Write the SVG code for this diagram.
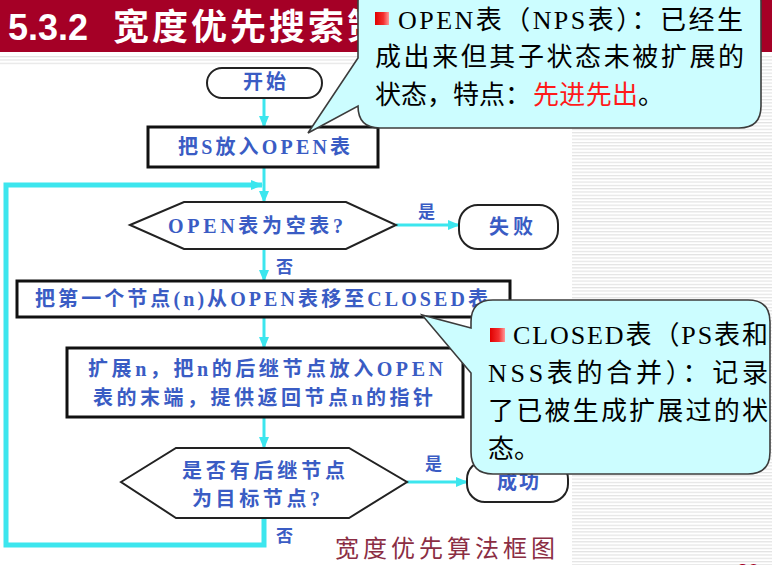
<svg xmlns="http://www.w3.org/2000/svg" width="772" height="565" viewBox="0 0 772 565">
  <defs>
    <pattern id="stripes" patternUnits="userSpaceOnUse" width="8" height="3.3">
      <rect x="0" y="0" width="8" height="1.2" fill="#e3e3e3"/>
    </pattern>
    <linearGradient id="bulletFill" x1="0" y1="0" x2="1" y2="0">
      <stop offset="0" stop-color="#e00000"/>
      <stop offset="0.6" stop-color="#f43030"/>
      <stop offset="1" stop-color="#ff9a9a"/>
    </linearGradient>
    <marker id="arrow" markerUnits="userSpaceOnUse" markerWidth="12" markerHeight="10" refX="11" refY="5" orient="auto">
      <path d="M0,0 L12,5 L0,10 Z" fill="#3ce6ee"/>
    </marker>
    <style>
      .flow { fill: none; stroke: #3ce6ee; stroke-width: 3; }
      .loop { fill: none; stroke: #3ce6ee; stroke-width: 5; stroke-linejoin: miter; }
      .box { fill: #ffffff; stroke: #111111; stroke-width: 3; }
      .term { fill: #ffffff; stroke: #222222; stroke-width: 2; }
      .dec { fill: #ffffff; stroke: #222222; stroke-width: 2; }
      .lbl { font-family: "Liberation Serif", "Noto Sans CJK SC", serif; font-weight: bold; fill: #3a5cc4; font-size: 20px; }
      .yn { font-family: "Noto Sans CJK SC", sans-serif; font-weight: bold; fill: #3a5cc4; font-size: 17px; }
      .note { fill: #ccfdff; stroke: #3c3c3c; stroke-width: 1.6; }
      .ntxt { font-family: "Liberation Serif", "Noto Sans CJK SC", serif; font-size: 26px; fill: #000000; }
      .hot { fill: #ff1a1a; }
    </style>
  </defs>

  <!-- page background -->
  <rect x="0" y="0" width="772" height="565" fill="#ffffff"/>
  <rect x="0" y="55" width="772" height="10" fill="url(#stripes)"/>
  <rect x="572" y="65" width="200" height="500" fill="url(#stripes)"/>

  <!-- title bar -->
  <g id="title">
    <rect x="0" y="0" width="772" height="52" fill="#a50026"/>
    <text x="8" y="40" font-family="Liberation Sans, Arial, sans-serif" font-weight="bold" font-size="36" fill="#ffffff">5.3.2</text>
    <text x="113" y="40" font-family="Noto Sans CJK SC, sans-serif" font-weight="bold" font-size="36" letter-spacing="3" fill="#ffffff">宽度优先搜索策略</text>
  </g>

  <!-- connectors -->
  <g id="connectors">
    <path class="flow" d="M264,98 V127" marker-end="url(#arrow)"/>
    <path class="flow" d="M264,167 V202" marker-end="url(#arrow)"/>
    <path class="loop" d="M264,518 V545 H6 V185 H262" marker-end="url(#arrow)"/>
    <path class="flow" d="M264,249 V281" marker-end="url(#arrow)"/>
    <path class="flow" d="M396,225 H459" stroke-width="4" marker-end="url(#arrow)"/>
    <path class="flow" d="M264,317 V348" marker-end="url(#arrow)"/>
    <path class="flow" d="M264,417 V448" marker-end="url(#arrow)"/>
    <path class="flow" d="M407,482 H467" stroke-width="4" marker-end="url(#arrow)"/>
    <text class="yn" x="276" y="273">否</text>
    <text class="yn" x="418" y="218">是</text>
    <text class="yn" x="425" y="470">是</text>
    <text class="yn" x="276" y="542">否</text>
  </g>

  <g id="start">
    <rect class="term" x="207" y="68" width="115" height="30" rx="15"/>
    <text class="lbl" x="243" y="89" textLength="43" lengthAdjust="spacing">开始</text>
  </g>

  <g id="putS">
    <rect class="box" x="148" y="127" width="230" height="40"/>
    <text class="lbl" x="178" y="154" textLength="172" lengthAdjust="spacing">把S放入OPEN表</text>
  </g>

  <g id="isEmpty">
    <polygon class="dec" points="130,225 184,202 346,202 396,225 346,249 184,249"/>
    <text class="lbl" x="168" y="233" textLength="175" lengthAdjust="spacing">OPEN表为空表?</text>
  </g>

  <g id="fail">
    <rect class="term" x="459" y="205" width="99" height="44" rx="19"/>
    <text class="lbl" x="489" y="234" textLength="44" lengthAdjust="spacing">失败</text>
  </g>

  <g id="moveFirst">
    <rect class="box" x="17" y="281" width="493" height="36"/>
    <text class="lbl" x="35" y="306" textLength="453" lengthAdjust="spacing">把第一个节点(n)从OPEN表移至CLOSED表</text>
  </g>

  <g id="expand">
    <rect class="box" x="67" y="348" width="396" height="69"/>
    <text class="lbl" x="88" y="376" textLength="355" lengthAdjust="spacing">扩展n，把n的后继节点放入OPEN</text>
    <text class="lbl" x="93" y="405" textLength="340" lengthAdjust="spacing">表的末端，提供返回节点n的指针</text>
  </g>

  <g id="isGoal">
    <polygon class="dec" points="121,482 176,448 349,448 407,482 349,518 176,518"/>
    <text class="lbl" x="182" y="478" textLength="163" lengthAdjust="spacing">是否有后继节点</text>
    <text class="lbl" x="192" y="506" textLength="128" lengthAdjust="spacing">为目标节点?</text>
  </g>

  <g id="success">
    <rect class="term" x="467" y="461" width="101" height="41" rx="18"/>
    <text class="lbl" x="497" y="489" textLength="42" lengthAdjust="spacing">成功</text>
  </g>

  <g id="caption">
    <text x="335" y="557" font-family="Noto Sans CJK SC, sans-serif" font-size="24" fill="#8b2e44" textLength="220" lengthAdjust="spacing">宽度优先算法框图</text>
  </g>

  <g id="pageNumber">
    <text x="737" y="578" font-family="Liberation Sans, Arial, sans-serif" font-size="20" fill="#a50026">30</text>
  </g>

  <!-- callout: OPEN list -->
  <g id="openNote">
    <path class="note" d="M380,-20 H739 Q761,-20 761,2 V106 Q761,128 739,128 H380 Q358,128 358,106 L308,133 L358,58 V2 Q358,-20 380,-20 Z"/>
    <rect x="375" y="12" width="14" height="13" fill="url(#bulletFill)"/>
    <text class="ntxt" x="398" y="29" textLength="345" lengthAdjust="spacing">OPEN表（NPS表）：已经生</text>
    <text class="ntxt" x="375" y="66" textLength="369" lengthAdjust="spacing">成出来但其子状态未被扩展的</text>
    <text class="ntxt" x="375" y="104" textLength="156" lengthAdjust="spacing">状态，特点：</text>
    <text class="ntxt hot" x="533" y="104" textLength="105" lengthAdjust="spacing">先进先出</text>
    <text class="ntxt" x="638" y="104">。</text>
  </g>

  <!-- callout: CLOSED list -->
  <g id="closedNote">
    <path class="note" d="M493,300 H748 Q770,300 770,322 V452 Q770,474 748,474 H493 Q471,474 471,452 V373 L422,315 L471,328 V322 Q471,300 493,300 Z"/>
    <rect x="490" y="328" width="15" height="14" fill="url(#bulletFill)"/>
    <text class="ntxt" x="513" y="344" textLength="255" lengthAdjust="spacing">CLOSED表（PS表和</text>
    <text class="ntxt" x="488" y="382" textLength="280" lengthAdjust="spacing">NSS表的合并）：记录</text>
    <text class="ntxt" x="488" y="420" textLength="280" lengthAdjust="spacing">了已被生成扩展过的状</text>
    <text class="ntxt" x="488" y="458">态。</text>
  </g>
</svg>
